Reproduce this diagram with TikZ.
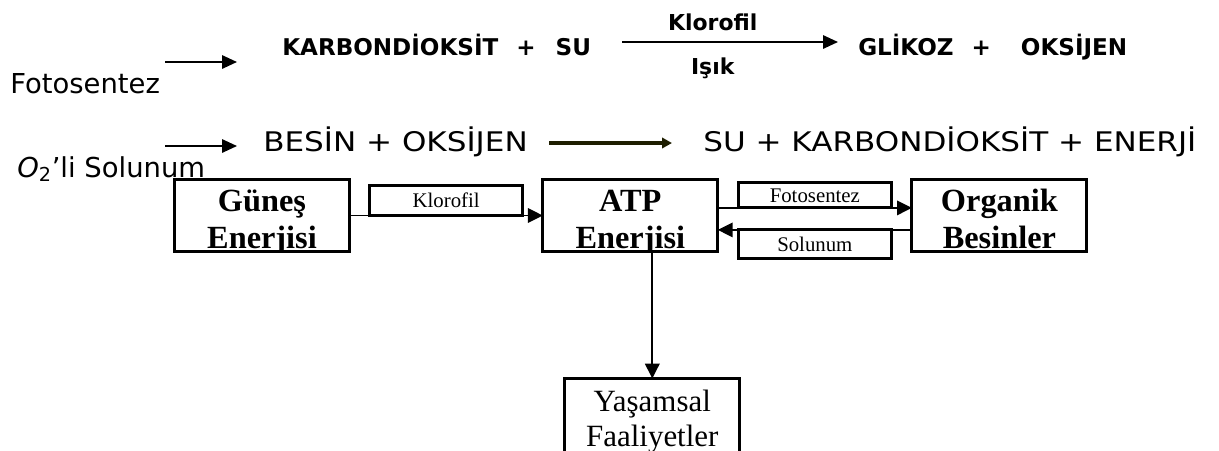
\documentclass[tikz,border=0pt]{standalone}
\usepackage{fontspec}
\setmainfont{Liberation Serif}
\newfontfamily\comicfont{DejaVu Sans}
\newfontfamily\comicwide[FakeStretch=1.15]{DejaVu Sans}
\usetikzlibrary{arrows.meta, positioning}
\definecolor{arrowolive}{RGB}{30,30,0}
\tikzset{
    boxframe/.style={draw, line width=2.2pt, inner sep=0pt, outer sep=0pt,
        minimum width=4.375cm, minimum height=1.8cm},
    boxtext/.style={anchor=base, align=center, inner sep=0pt,
        font=\bfseries\fontsize{23}{26.3}\selectfont},
    bigbox/.style={boxframe, path picture={\node[boxtext]
        at ([yshift=0.075cm]path picture bounding box.south) {#1};}},
    lblbox/.style={draw, line width=2.2pt, inner sep=0pt, outer sep=0pt,
        minimum width=3.825cm, font=\fontsize{14.8}{17}\selectfont},
    flow/.style={-{Triangle[length=0.37cm,width=0.36cm]}, line width=1.4pt},
    side/.style={-{Triangle[length=0.37cm,width=0.33cm]}, line width=1.4pt},
    eqtext/.style={anchor=base west, inner sep=0pt},
    bigcomic/.style={font=\comicfont\fontsize{19.5}{23}\selectfont},
    boldcomic/.style={font=\comicfont\bfseries\fontsize{16.4}{19}\selectfont},
    widecomic/.style={font=\comicwide\fontsize{19.2}{23}\selectfont}}

\begin{document}
\begin{tikzpicture}[x=0.025cm, y=-0.025cm]
\useasboundingbox (0,0) rectangle (1219,450);

% equations
\node[eqtext, bigcomic] (fotolbl) at (10,93) {Fotosentez};
\node[eqtext, bigcomic] (solunumlbl) at (17,177) {{\itshape O}\textsubscript{2}’li Solunum};
\node[eqtext, boldcomic] (reactA) at (282,55) {KARBONDİOKSİT\hspace{0.45cm}+\hspace{0.5cm}SU};
\node[eqtext, boldcomic] (prodA) at (858,55) {GLİKOZ\hspace{0.45cm}+\hspace{0.75cm}OKSİJEN};
\node[eqtext, widecomic] (reactB) at (263,151) {BESİN + OKSİJEN};
\node[eqtext, widecomic] (prodB) at (703,151) {SU + KARBONDİOKSİT + ENERJİ};

\coordinate (f1s) at (165,62);   \coordinate (f1e) at (237,62);
\coordinate (s1s) at (165,146);  \coordinate (s1e) at (237,146);
\coordinate (k1s) at (622,42);   \coordinate (k1e) at (838,42);
\coordinate (b1s) at (549,143);  \coordinate (b1e) at (672,143);

\draw[side] (f1s) -- (f1e);
\draw[side] (s1s) -- (s1e);
\draw[side] (k1s) -- (k1e)
    node[pos=0.42, anchor=base, yshift=0.3cm, font=\comicfont\bfseries\fontsize{15.6}{18}\selectfont] {Klorofil}
    node[pos=0.42, anchor=base, yshift=-0.8cm, font=\comicfont\bfseries\fontsize{15.6}{18}\selectfont] {Işık};
\draw[-{Triangle[length=0.25cm,width=0.26cm]}, line width=2.2pt, arrowolive] (b1s) -- (b1e);

% energy flow
\node[bigbox={Güneş\\Enerjisi}] (gunes) at (262,215.5) {};
\node[bigbox={ATP\\Enerjisi}, right=4.83cm of gunes] (atp) {};
\node[bigbox={Organik\\Besinler}, right=4.85cm of atp] (organik) {};
\node[boxframe, minimum height=3cm, below=3.175cm of atp, xshift=0.55cm,
    path picture={\node[boxtext, font=\fontsize{22}{25}\selectfont]
        at ([yshift=-1.7cm]path picture bounding box.north) {Yaşamsal\\Faaliyetler};}] (yasam) {};

\draw[flow] (gunes) -- (atp)
    node[lblbox, midway, anchor=south, minimum height=0.75cm] {Klorofil};
\draw[flow] ([yshift=0.19cm]atp.east) -- ([yshift=0.19cm]organik.west)
    node[lblbox, midway, anchor=south, minimum height=0.625cm] {Fotosentez};
\draw[flow] ([yshift=-0.36cm]organik.west) -- ([yshift=-0.36cm]atp.east)
    node[lblbox, midway, anchor=north, minimum height=0.725cm] {Solunum};
\draw[flow] (yasam.north |- atp.south) -- (yasam.north);
\end{tikzpicture}
\end{document}
